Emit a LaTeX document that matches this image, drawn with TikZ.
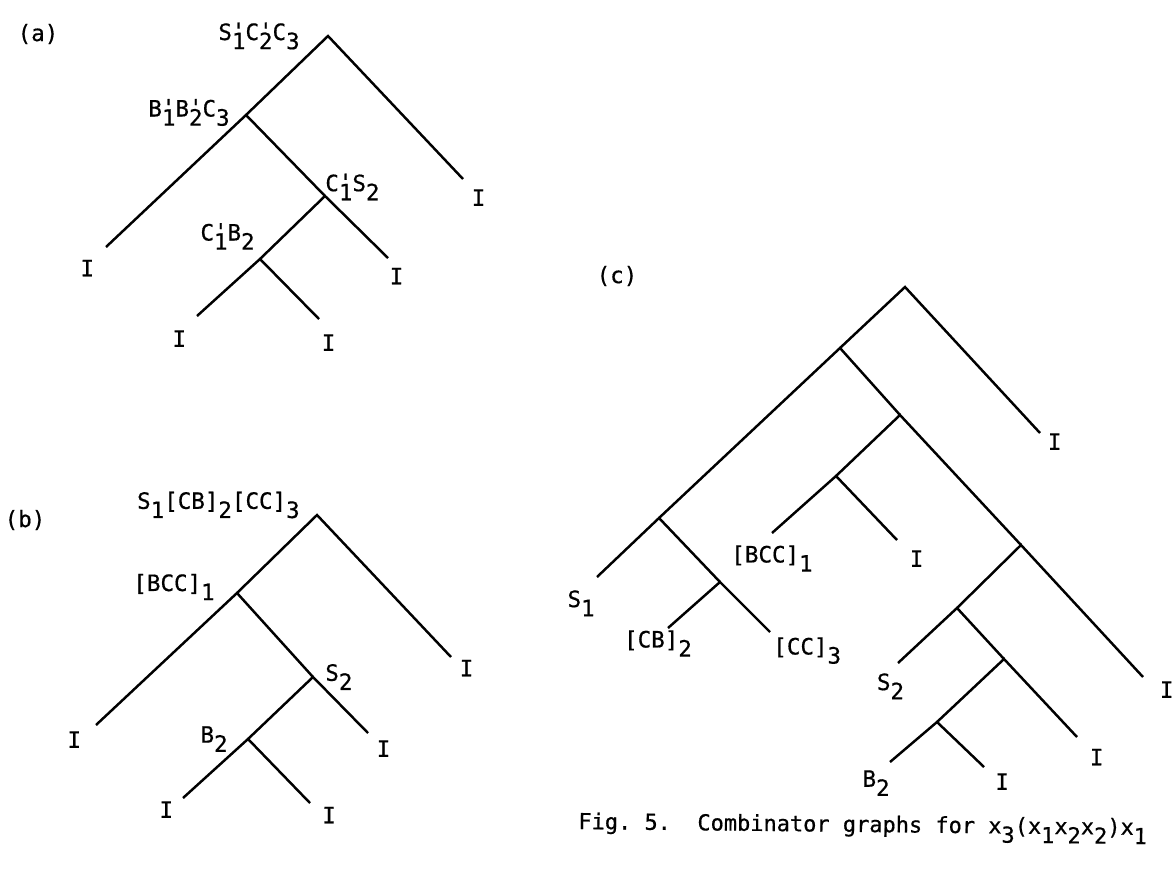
\documentclass[tikz,border=0pt]{standalone}
\usepackage{fontspec}
\setmainfont{DejaVu Sans Mono}[Ligatures=TeXOff, FakeBold=0.6]
\usetikzlibrary{positioning}

% lowered index, and lowered index with a tick over it
\newcommand{\dn}[1]{\raisebox{-5.2pt}{#1}}
\newcommand{\pdn}[1]{\rlap{\raisebox{0.6pt}{'}}\dn{#1}}

\begin{document}
\begin{tikzpicture}[
    x=0.2mm, y=-0.2mm,
    every node/.style={inner sep=0pt, font=\fontsize{12.8}{15}\selectfont},
    branch/.style={line width=1.4pt, line join=miter},
    node distance=2mm and 1.2mm
    ]
    \useasboundingbox (0,0) rectangle (1174,874);

    % (a)
    \node (taga) at (38,34) {(a)};
    \coordinate (a0) at (328,36);
    \coordinate (a1) at (246,115);
    \coordinate (a2) at (325,196);
    \coordinate (a3) at (260,259);
    \coordinate (a0e) at (463,179);
    \coordinate (a1e) at (106,247);
    \coordinate (a2e) at (388,258);
    \coordinate (a3l) at (197,316);
    \coordinate (a3r) at (319,319);

    \node[left=5.6mm of a0] (la0) {S\pdn{1}C\pdn{2}C\dn{3}};
    \node[left=3.2mm of a1, yshift=0.5mm] (la1) {B\pdn{1}B\pdn{2}C\dn{3}};
    \node[right=0mm of a2, yshift=1.8mm] (la2) {C\pdn{1}S\dn{2}};
    \node[above left=1.8mm and 1mm of a3] (la3) {C\pdn{1}B\dn{2}};

    \node[below right=2mm and 1.7mm of a0e] (ia0) {I};
    \node[below left=2.5mm and 2.3mm of a1e] (ia1) {I};
    \node[below right=1.9mm and 0.3mm of a2e] (ia2) {I};
    \node[below left=2.8mm and 2.1mm of a3l] (ia3l) {I};
    \node[below right=3mm and 0.5mm of a3r] (ia3r) {I};

    \draw[branch] (a1) -- (a0) -- (a0e);
    \draw[branch] (a1e) -- (a1) -- (a2);
    \draw[branch] (a3) -- (a2) -- (a2e);
    \draw[branch] (a3l) -- (a3) -- (a3r);

    % (b)
    \node (tagb) at (25,520) {(b)};
    \coordinate (b0) at (317,515);
    \coordinate (b1) at (237,593);
    \coordinate (b2) at (313,677);
    \coordinate (b3) at (248,739);
    \coordinate (b0e) at (451,657);
    \coordinate (b1e) at (96,725);
    \coordinate (b2e) at (368,733);
    \coordinate (b3l) at (183,798);
    \coordinate (b3r) at (310,803);

    \node[left=3.4mm of b0, yshift=2mm] (lb0) {S\dn{1}[CB]\dn{2}[CC]\dn{3}};
    \node[left=4.4mm of b1, yshift=1.2mm] (lb1) {[BCC]\dn{1}};
    \node[right=2.4mm of b2] (lb2) {S\dn{2}};
    \node[left=4mm of b3] (lb3) {B\dn{2}};

    \node[below right=0.5mm and 1.7mm of b0e] (ib0) {I};
    \node[below left=1.2mm and 2.9mm of b1e] (ib1) {I};
    \node[below right=1.4mm and 1.7mm of b2e] (ib2) {I};
    \node[below left=0.6mm and 1.9mm of b3l] (ib3l) {I};
    \node[below right=0.7mm and 2.4mm of b3r] (ib3r) {I};

    \draw[branch] (b1) -- (b0) -- (b0e);
    \draw[branch] (b1e) -- (b1) -- (b2);
    \draw[branch] (b3) -- (b2) -- (b2e);
    \draw[branch] (b3l) -- (b3) -- (b3r);

    % (c)
    \node (tagc) at (617,276) {(c)};
    \coordinate (c0) at (905,287);
    \coordinate (c1) at (840,348);
    \coordinate (c2) at (900,415);
    \coordinate (c2l) at (836,476);
    \coordinate (c3) at (659,518);
    \coordinate (c4) at (1021,545);
    \coordinate (c5) at (720,582);
    \coordinate (c6) at (957,608);
    \coordinate (c7) at (1004,659);
    \coordinate (c8) at (937,722);
    \coordinate (c0e) at (1040,433);
    \coordinate (c2ll) at (772,533);
    \coordinate (c2lr) at (897,540);
    \coordinate (c3e) at (597,577);
    \coordinate (c5l) at (668,628);
    \coordinate (c5r) at (770,632);
    \coordinate (c4e) at (1143,677);
    \coordinate (c6e) at (898,663);
    \coordinate (c7e) at (1077,737);
    \coordinate (c8l) at (890,762);
    \coordinate (c8r) at (984,767);

    \node[below right=0mm and 1.5mm of c0e] (ic0) {I};
    \node[below=2.4mm of c2ll] (lc2ll) {[BCC]\dn{1}};
    \node[below right=2mm and 2.5mm of c2lr] (ic2lr) {I};
    \node[below left=2.6mm and 0.4mm of c3e] (lc3e) {S\dn{1}};
    \node[below=0.4mm of c5l, xshift=-2mm] (lc5l) {[CB]\dn{2}};
    \node[below right=1mm and 0.6mm of c5r] (lc5r) {[CC]\dn{3}};
    \node[below right=0.8mm and 3.3mm of c4e] (ic4) {I};
    \node[below=2mm of c6e, xshift=-1.5mm] (lc6e) {S\dn{2}};
    \node[below right=2.3mm and 2.5mm of c7e] (ic7) {I};
    \node[below left=1.6mm and 0mm of c8l] (lc8l) {B\dn{2}};
    \node[below right=1.2mm and 2.2mm of c8r] (ic8r) {I};

    \draw[branch] (c1) -- (c0) -- (c0e);
    \draw[branch] (c3) -- (c1) -- (c2);
    \draw[branch] (c2l) -- (c2) -- (c4);
    \draw[branch] (c2ll) -- (c2l) -- (c2lr);
    \draw[branch] (c3e) -- (c3) -- (c5);
    \draw[branch] (c5l) -- (c5) -- (c5r);
    \draw[branch] (c6) -- (c4) -- (c4e);
    \draw[branch] (c6e) -- (c6) -- (c7);
    \draw[branch] (c8) -- (c7) -- (c7e);
    \draw[branch] (c8l) -- (c8) -- (c8r);

    % caption
    \node[anchor=base west, rotate=-0.6, font=\fontsize{12.5}{15}\selectfont] (caption) at (578,829)
        {Fig.\ 5.\ \ Combinator graphs for x\dn{3}(x\dn{1}x\dn{2}x\dn{2})x\dn{1}};
\end{tikzpicture}
\end{document}
